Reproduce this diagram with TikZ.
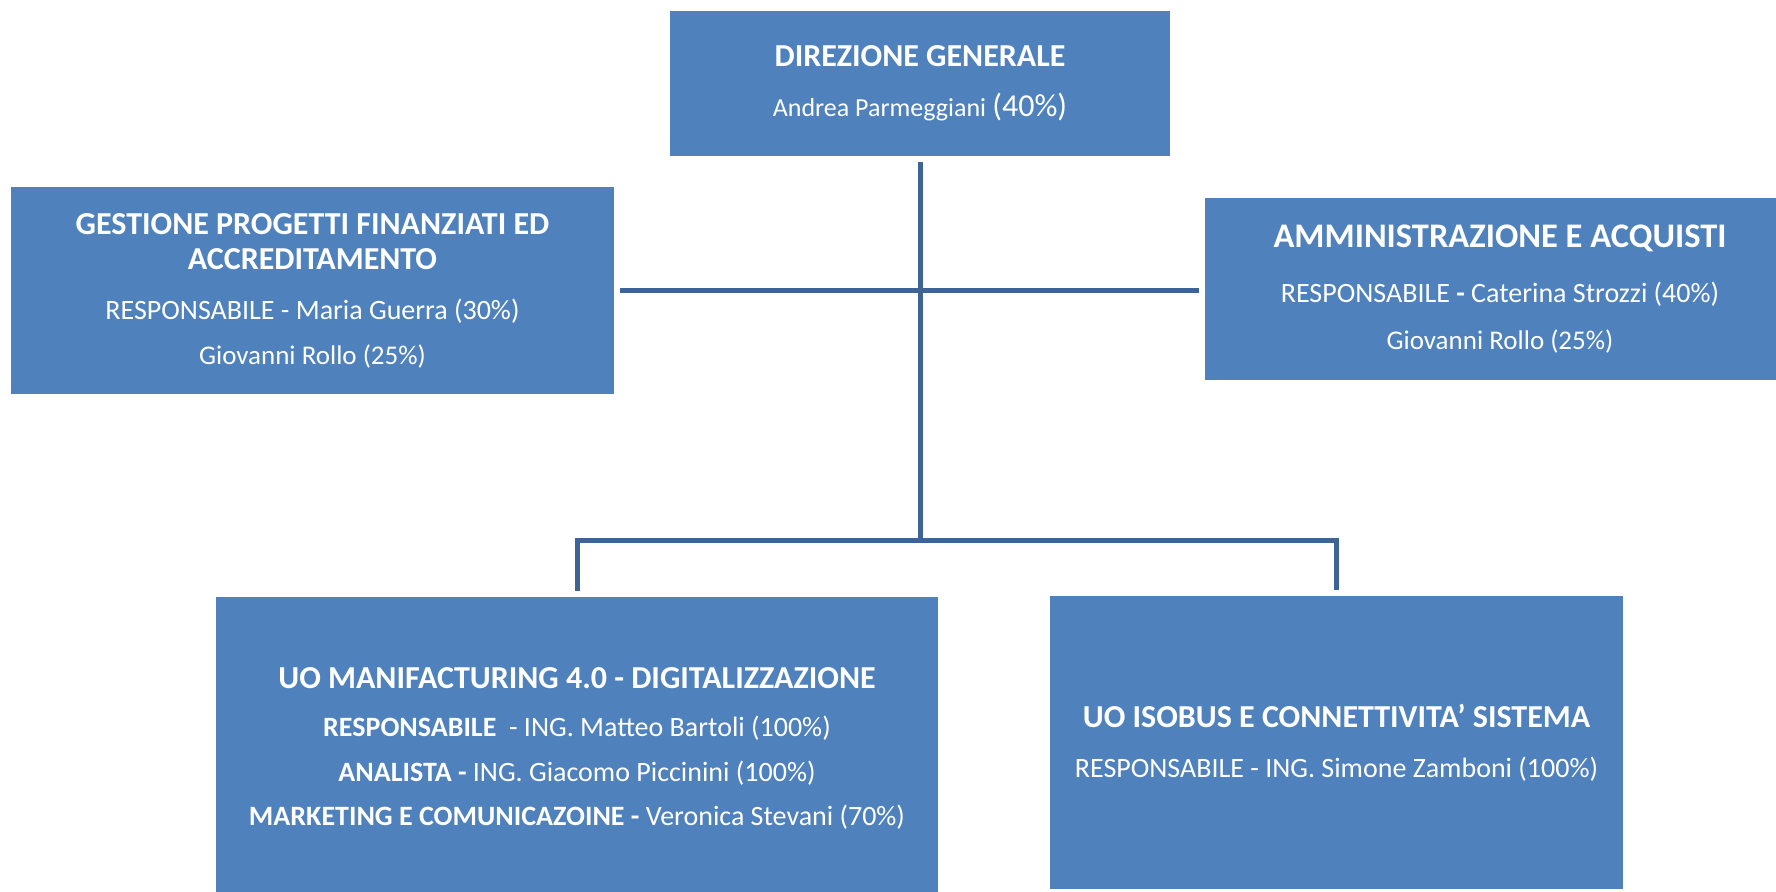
\documentclass[tikz,border=0pt]{standalone}
\usepackage{fontspec}
\setmainfont{Carlito}
\usepackage{tikz}

\definecolor{boxblue}{HTML}{4F81BD}
\definecolor{linkblue}{HTML}{3E6494}
\newcommand{\unithead}[2][32]{{\fontsize{#1}{35}\selectfont\bfseries #2}}
\tikzset{
  unit/.style={fill=boxblue, text=white, align=center, inner sep=0pt, font=\fontsize{28}{35}\selectfont},
  link/.style={draw=linkblue, line width=5pt}
}

\begin{document}
\begin{tikzpicture}[x=1pt, y=-1pt]
  \useasboundingbox (0,0) rectangle (1776,891);

  \node[unit, minimum width=500pt, minimum height=145pt] (dir) at (920,83.5) {\unithead{DIREZIONE GENERALE}\\[15pt] {\fontsize{26}{35}\selectfont Andrea Parmeggiani} {\fontsize{32}{35}\selectfont (40\%)}};
  \node[unit, minimum width=603pt, minimum height=207pt] (gest) at (312.5,290.5) {\unithead{GESTIONE PROGETTI FINANZIATI ED}\\ \unithead{ACCREDITAMENTO}\\[15pt] RESPONSABILE - Maria Guerra (30\%)\\[10pt] {\fontsize{27}{35}\selectfont Giovanni Rollo (25\%)}};
  \node[unit, minimum width=590pt, minimum height=182pt] (amm) at (1500,289) {\unithead[34.5]{AMMINISTRAZIONE E ACQUISTI}\\[20pt] RESPONSABILE \textbf{-} Caterina Strozzi (40\%)\\[12pt] {\fontsize{27}{35}\selectfont Giovanni Rollo (25\%)}};
  \node[unit, minimum width=722pt, minimum height=302pt] (uom) at (577,748) {\unithead{UO MANIFACTURING 4.0 - DIGITALIZZAZIONE}\\[13pt] \textbf{RESPONSABILE}\ \ - ING. Matteo Bartoli (100\%)\\[10pt] \textbf{ANALISTA -} ING. Giacomo Piccinini (100\%)\\[9pt] \textbf{MARKETING E COMUNICAZOINE -} Veronica Stevani (70\%)};
  \node[unit, minimum width=573pt, minimum height=293pt] (uoi) at (1336.5,742.5) {\unithead{UO ISOBUS E CONNETTIVITA’ SISTEMA}\\[15pt] RESPONSABILE - ING. Simone Zamboni (100\%)};

  \coordinate (hub) at (920,290);
  \coordinate (bus) at (920,540);

  \draw[link, shorten <=6pt] (dir.south) -- (bus);
  \draw[link, shorten <=6pt] (gest.east |- hub) -- (hub);
  \draw[link, shorten >=6pt] (hub) -- (hub -| amm.west);
  \draw[link, shorten >=6pt] (bus) -| (uom.north);
  \draw[link, shorten >=6pt] (bus) -| (uoi.north);
\end{tikzpicture}
\end{document}
